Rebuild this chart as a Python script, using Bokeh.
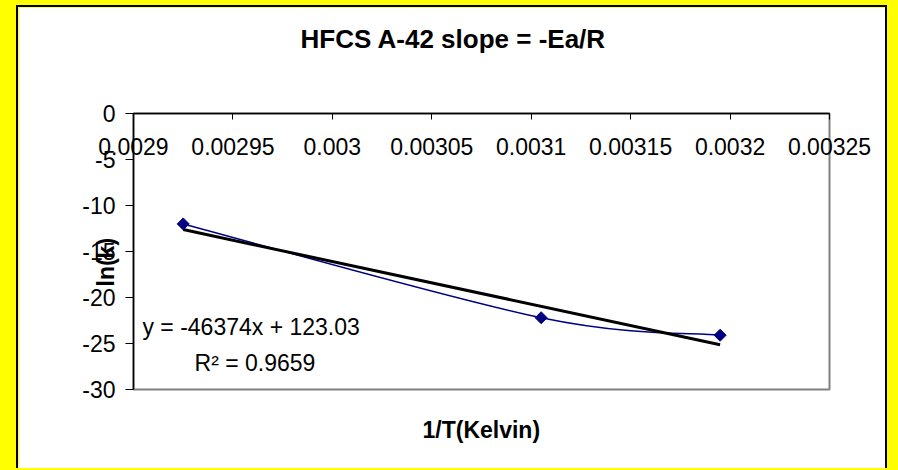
import math
from bokeh.plotting import figure
from bokeh.models import Range1d, FixedTicker, Label, Title, LinearAxis, GlobalInlineStyleSheet
from bokeh.embed import file_html
from bokeh.resources import INLINE

# ---- data ----
inv_T = [0.002925, 0.003105, 0.003195]          # 1/T (1/K)
ln_k = [-12.0, -22.2, -24.1]                    # ln(k)
fit_slope = -46374.0
fit_intercept = 123.03
x_ticks = [0.0029, 0.00295, 0.003, 0.00305, 0.0031, 0.00315, 0.0032, 0.00325]
x_tick_labels = ["0.0029", "0.00295", "0.003", "0.00305", "0.0031", "0.00315", "0.0032", "0.00325"]
y_ticks = [-30, -25, -20, -15, -10, -5, 0]
y_tick_labels = ["-30", "-25", "-20", "-15", "-10", "-5", "0"]
title_text = "HFCS A-42 slope = -Ea/R"
x_label_text = "1/T(Kelvin)"
y_label_text = "ln(k)"
eq_text = "y = -46374x + 123.03"
r2_text = "R\u00b2 = 0.9659"

FONT = "Liberation Sans"
NAVY = "#000080"

p = figure(width=871, height=463, output_backend="svg", toolbar_location=None,
           x_range=Range1d(x_ticks[0], x_ticks[-1]), y_range=Range1d(y_ticks[0], y_ticks[-1]),
           x_axis_location=None,
           min_border_left=115, min_border_right=60, min_border_top=106, min_border_bottom=81)
p.styles = {"margin-left": "16px", "margin-top": "5px", "border-left": "2px solid black",
            "border-top": "2px solid black", "border-right": "2px solid black"}
p.stylesheets = [GlobalInlineStyleSheet(css="body { background-color: #ffff00; overflow: hidden; }")]

p.background_fill_color = "white"
p.border_fill_color = "white"
p.outline_line_color = "#808080"
p.outline_line_width = 2
p.grid.visible = False

# x axis along the top edge (y = 0), tick labels hanging below the line
xa = LinearAxis(ticker=FixedTicker(ticks=x_ticks))
xa.major_label_overrides = {t: s for t, s in zip(x_ticks, x_tick_labels)}
xa.minor_tick_line_color = None
xa.major_tick_in = 6
xa.major_tick_out = 0
xa.major_label_standoff = -41
xa.axis_line_color = "black"
xa.axis_line_width = 1.5
xa.major_tick_line_color = "black"
xa.major_label_text_font = FONT
xa.major_label_text_font_size = "23px"
xa.major_label_text_color = "black"
p.add_layout(xa, "above")

# blank spacer between the axis and the chart title
p.add_layout(Title(text=" ", text_font_size="1px", standoff=44), "above")

# chart title (outermost)
p.title.text = title_text
p.title.align = "left"
p.title.offset = 167
p.title.standoff = 26
p.title.text_font = FONT
p.title.text_font_size = "26px"
p.title.text_font_style = "bold"
p.title.text_color = "black"

ya = p.yaxis[0]
ya.ticker = FixedTicker(ticks=y_ticks)
ya.major_label_overrides = {t: s for t, s in zip(y_ticks, y_tick_labels)}
ya.minor_tick_line_color = None
ya.major_tick_in = 0
ya.major_tick_out = 8
ya.major_label_standoff = 10
ya.axis_line_color = "black"
ya.axis_line_width = 1.5
ya.major_tick_line_color = "black"
ya.major_label_text_font = FONT
ya.major_label_text_font_size = "23px"
ya.major_label_text_color = "black"

# axis titles
p.add_layout(Title(text=x_label_text, align="left", offset=289, standoff=51,
                   text_font=FONT, text_font_size="23px", text_font_style="bold",
                   text_color="black"), "below")
p.add_layout(Title(text=y_label_text, align="left", offset=103, standoff=-78,
                   text_font=FONT, text_font_size="23px", text_font_style="bold",
                   text_color="black"), "left")

# smoothed series line (Bezier segments through the points)
n = len(inv_T)
bx0, by0, bx1, by1, cx0, cy0, cx1, cy1 = [], [], [], [], [], [], [], []
for i in range(n - 1):
    pm = max(i - 1, 0)
    pp = min(i + 2, n - 1)
    bx0.append(inv_T[i]); by0.append(ln_k[i])
    bx1.append(inv_T[i + 1]); by1.append(ln_k[i + 1])
    cx0.append(inv_T[i] + (inv_T[i + 1] - inv_T[pm]) / 6)
    cy0.append(ln_k[i] + (ln_k[i + 1] - ln_k[pm]) / 6)
    cx1.append(inv_T[i + 1] - (inv_T[pp] - inv_T[i]) / 6)
    cy1.append(ln_k[i + 1] - (ln_k[pp] - ln_k[i]) / 6)
p.bezier(x0=bx0, y0=by0, x1=bx1, y1=by1, cx0=cx0, cy0=cy0, cx1=cx1, cy1=cy1,
         line_color=NAVY, line_width=1.5)

# linear trendline
fit_x = [min(inv_T), max(inv_T)]
fit_y = [fit_slope * v + fit_intercept for v in fit_x]
p.line(fit_x, fit_y, line_color="black", line_width=3)

# markers
p.scatter(inv_T, ln_k, marker="square", angle=math.pi / 4, size=8.5,
          fill_color=NAVY, line_color=NAVY)

def lab(x, y, text):
    return Label(x=x, y=y, text=text, text_font=FONT, text_font_size="23px",
                 text_color="black", text_align="left", text_baseline="middle")

p.add_layout(lab(0.0029045, -23.26, eq_text))
p.add_layout(lab(0.0029307, -27.17, r2_text))

open("out.html", "w").write(file_html(p, INLINE))
